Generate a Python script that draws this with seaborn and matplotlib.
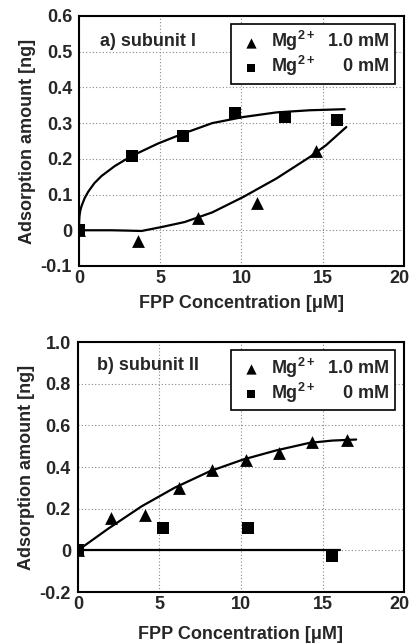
import matplotlib
matplotlib.use("Agg")
import matplotlib.pyplot as plt
import matplotlib.transforms as mtransforms
import seaborn as sns
import pandas as pd

# panel a) subunit I
a_tri_x = [0, 3.65, 7.33, 10.98, 14.6]
a_tri_y = [0, -0.03, 0.033, 0.075, 0.222]
a_sq_x = [0, 3.24, 6.37, 9.57, 12.7, 15.9]
a_sq_y = [0, 0.207, 0.264, 0.329, 0.318, 0.31]
# fitted curves
a_tri_fit_x = [0, 1.0, 2.0, 3.0, 3.85, 5.08, 6.5, 8.2, 10.1, 12.15, 14.2, 15.2, 16.45]
a_tri_fit_y = [0, 0, 0, -0.001, -0.002, 0.009, 0.023, 0.05, 0.093, 0.145, 0.205, 0.238, 0.289]
a_sq_fit_x = [0, 0.01, 0.03, 0.08, 0.16, 0.35, 0.57, 0.95, 1.39, 2.21, 3.2, 4.87, 6.31, 8.2, 10.1, 12.15, 14.2, 16.35]
a_sq_fit_y = [0, 0.025, 0.04, 0.055, 0.068, 0.09, 0.108, 0.132, 0.152, 0.18, 0.207, 0.243, 0.269, 0.30, 0.317, 0.33, 0.336, 0.339]

# panel b) subunit II
b_tri_x = [0, 2.06, 4.1, 6.19, 8.23, 10.28, 12.34, 14.38, 16.47]
b_tri_y = [0, 0.155, 0.168, 0.30, 0.385, 0.436, 0.466, 0.521, 0.529]
b_sq_x = [0, 5.19, 10.4, 15.6]
b_sq_y = [0, 0.109, 0.109, -0.029]
b_tri_fit_x = [0, 1.86, 3.9, 5.94, 8.1, 10.13, 12.17, 14.2, 15.6, 17.06]
b_tri_fit_y = [0, 0.104, 0.211, 0.301, 0.38, 0.436, 0.48, 0.516, 0.527, 0.532]
b_sq_fit_x = [0, 16.05]
b_sq_fit_y = [0, 0]

x_ticks = [0, 5, 10, 15, 20]
x_ticklabels = ["0", "5", "10", "15", "20"]

panels = [
    dict(tx=a_tri_x, ty=a_tri_y, sx=a_sq_x, sy=a_sq_y,
         ftx=a_tri_fit_x, fty=a_tri_fit_y, fsx=a_sq_fit_x, fsy=a_sq_fit_y,
         ylim=(-0.1, 0.6), yticks=[-0.1, 0, 0.1, 0.2, 0.3, 0.4, 0.5, 0.6],
         ylabels=["-0.1", "0", "0.1", "0.2", "0.3", "0.4", "0.5", "0.6"],
         title="a) subunit I", tpos=(0.065, 0.896), xpad=6),
    dict(tx=b_tri_x, ty=b_tri_y, sx=b_sq_x, sy=b_sq_y,
         ftx=b_tri_fit_x, fty=b_tri_fit_y, fsx=b_sq_fit_x, fsy=b_sq_fit_y,
         ylim=(-0.2, 1.0), yticks=[-0.2, 0, 0.2, 0.4, 0.6, 0.8, 1.0],
         ylabels=["-0.2", "0", "0.2", "0.4", "0.6", "0.8", "1.0"],
         title="b) subunit II", tpos=(0.06, 0.905), xpad=9),
]

sns.set_style("white")
plt.rcParams["font.family"] = ["Liberation Sans", "DejaVu Sans"]
plt.rcParams["font.weight"] = "bold"
plt.rcParams["mathtext.fontset"] = "custom"
plt.rcParams["mathtext.rm"] = "Liberation Sans:bold"
plt.rcParams["mathtext.default"] = "rm"

fig = plt.figure(figsize=(4.12, 6.44), dpi=100)
boxes = [[0.1917, 0.587, 0.7889, 0.3882], [0.189, 0.0807, 0.7918, 0.3882]]

for p, box in zip(panels, boxes):
    ax = fig.add_axes(box)
    fit_t = pd.DataFrame({"x": p["ftx"], "y": p["fty"]})
    fit_s = pd.DataFrame({"x": p["fsx"], "y": p["fsy"]})
    sns.lineplot(data=fit_t, x="x", y="y", sort=False, estimator=None,
                 color="black", lw=1.6, ax=ax)
    sns.lineplot(data=fit_s, x="x", y="y", sort=False, estimator=None,
                 color="black", lw=1.6, ax=ax)
    sns.scatterplot(x=p["tx"], y=p["ty"], marker="^", s=85, color="black",
                    edgecolor="black", linewidth=0, ax=ax, zorder=3,
                    label=r"Mg$^{2+}$  1.0 mM")
    sns.scatterplot(x=p["sx"], y=p["sy"], marker="s", s=65, color="black",
                    edgecolor="black", linewidth=0, ax=ax, zorder=3,
                    label=r"Mg$^{2+}$     0 mM")

    ax.set_xlim(0, 20)
    ax.set_ylim(*p["ylim"])
    ax.set_xticks(x_ticks)
    ax.set_xticklabels(x_ticklabels)
    ax.set_yticks(p["yticks"])
    ax.set_yticklabels(p["ylabels"])
    ax.tick_params(length=0, labelsize=13)
    ax.tick_params(axis="x", pad=3)
    ax.tick_params(axis="y", pad=5)
    for lab in ax.get_xticklabels() + ax.get_yticklabels():
        lab.set_fontweight("bold")
    # last x label sits slightly inside, as in the original
    last = ax.get_xticklabels()[-1]
    last.set_transform(last.get_transform() +
                       mtransforms.ScaledTranslation(-5 / 100, 0, fig.dpi_scale_trans))
    ax.grid(True, color="#888888", linestyle=(0, (1, 2)), lw=0.8)
    for sp in ax.spines.values():
        sp.set_color("black")
        sp.set_linewidth(1.5)
    ax.set_xlabel("FPP Concentration [\u03bcM]", fontsize=13, fontweight="bold", labelpad=p["xpad"])
    ax.set_ylabel("Adsorption amount [ng]", fontsize=13, fontweight="bold", labelpad=3)
    ax.text(p["tpos"][0], p["tpos"][1], p["title"], transform=ax.transAxes, fontsize=13,
            fontweight="bold", va="center", ha="left")
    leg = ax.legend(loc="upper right", bbox_to_anchor=(0.972, 0.968), borderaxespad=0,
                    frameon=True, fancybox=False, edgecolor="black", framealpha=1,
                    fontsize=13, handletextpad=0.35, borderpad=0.3, labelspacing=0.05,
                    handlelength=1.6, markerscale=0.8)
    leg.get_frame().set_linewidth(1.2)
    for t in leg.get_texts():
        t.set_fontweight("bold")

fig.savefig("out.png", dpi=100)
